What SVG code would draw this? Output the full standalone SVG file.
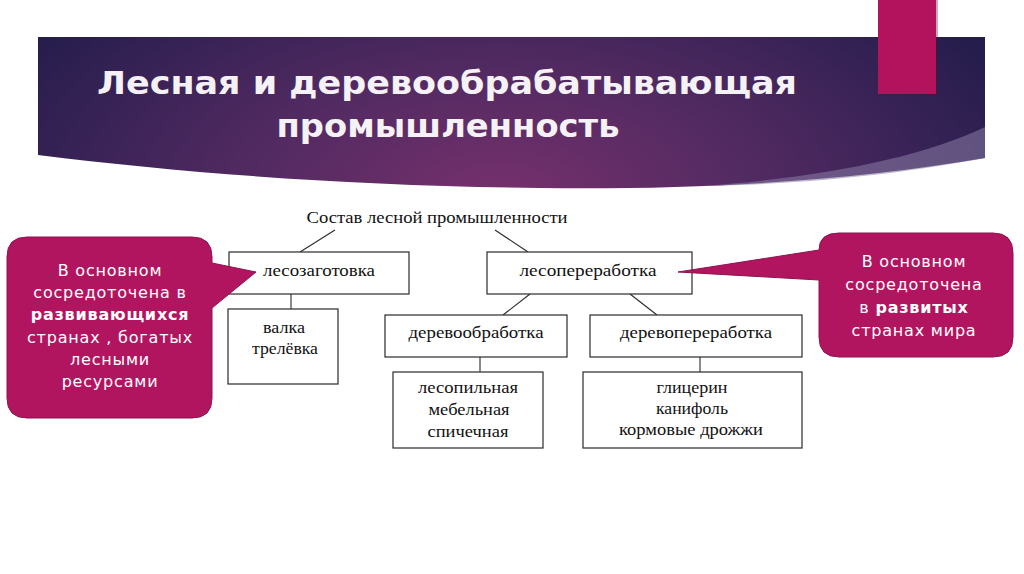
<svg xmlns="http://www.w3.org/2000/svg" width="1024" height="574" viewBox="0 0 1024 574">
<defs>
<radialGradient id="bannerGrad" gradientUnits="userSpaceOnUse" cx="500" cy="195" r="560" gradientTransform="translate(500 195) scale(1 0.5) translate(-500 -195)">
<stop offset="0" stop-color="#76306c"/>
<stop offset="0.45" stop-color="#522a62"/>
<stop offset="1" stop-color="#251d4c"/>
</radialGradient>
<style>
.title{font-family:"DejaVu Sans","Liberation Sans",sans-serif;font-weight:bold;font-size:32px;fill:#f4f2f6;text-anchor:middle}
.box{fill:#ffffff;stroke:#2a2a2a;stroke-width:1.2}
.lbl{font-family:"Liberation Serif","Times New Roman",serif;font-size:17px;fill:#111111;text-anchor:middle}
.con{stroke:#2a2a2a;stroke-width:1.1;fill:none}
.callout{fill:#b2155f;stroke:#8e1350;stroke-width:1}
.ct{font-family:"DejaVu Sans","Liberation Sans",sans-serif;font-size:16px;fill:#ffffff;text-anchor:middle;letter-spacing:0.8px}
.bold{font-weight:bold}
</style>
</defs>
<rect x="0" y="0" width="1024" height="574" fill="#ffffff"/>

<g id="banner">
<path d="M38,37 H985 V158 C850,181 700,190 540,188 C360,186 190,174 38,155 Z" fill="url(#bannerGrad)"/>
<path d="M985,127 C920,158 820,178 700,186 C820,184 910,172 985,158 Z" fill="#8a7ea6" opacity="0.55"/>
<rect x="880" y="0" width="58" height="96" fill="#5a0d36" opacity="0.35"/>
<rect x="878" y="0" width="58" height="94" fill="#b3135d"/>
<text class="title" x="447" y="94" textLength="700" lengthAdjust="spacingAndGlyphs">Лесная и деревообрабатывающая</text>
<text class="title" x="448" y="137" textLength="343" lengthAdjust="spacingAndGlyphs">промышленность</text>
</g>

<g id="connectors">
<line class="con" x1="335" y1="230" x2="300" y2="252"/>
<line class="con" x1="495" y1="230" x2="528" y2="252"/>
<line class="con" x1="291" y1="294" x2="291" y2="309"/>
<line class="con" x1="530" y1="294" x2="503" y2="315"/>
<line class="con" x1="630" y1="294" x2="657" y2="315"/>
<line class="con" x1="480" y1="357" x2="480" y2="372"/>
<line class="con" x1="700" y1="357" x2="700" y2="372"/>
</g>

<g id="root">
<text class="lbl" x="437" y="223" textLength="261" lengthAdjust="spacingAndGlyphs">Состав лесной промышленности</text>
</g>

<g id="lesozagotovka">
<rect class="box" x="229" y="252" width="180" height="42"/>
<text class="lbl" x="319" y="276" textLength="112" lengthAdjust="spacingAndGlyphs">лесозаготовка</text>
</g>

<g id="lesopererabotka">
<rect class="box" x="487" y="252" width="205" height="42"/>
<text class="lbl" x="588" y="276" textLength="137" lengthAdjust="spacingAndGlyphs">лесопереработка</text>
</g>

<g id="valka">
<rect class="box" x="228" y="309" width="110" height="75"/>
<text class="lbl" x="284" y="333" textLength="42" lengthAdjust="spacingAndGlyphs">валка</text>
<text class="lbl" x="285" y="354" textLength="66" lengthAdjust="spacingAndGlyphs">трелёвка</text>
</g>

<g id="derevoobrabotka">
<rect class="box" x="385" y="315" width="182" height="42"/>
<text class="lbl" x="476" y="338" textLength="135" lengthAdjust="spacingAndGlyphs">деревообработка</text>
</g>

<g id="derevopererabotka">
<rect class="box" x="590" y="315" width="212" height="42"/>
<text class="lbl" x="696" y="338" textLength="152" lengthAdjust="spacingAndGlyphs">деревопереработка</text>
</g>

<g id="lesopilnaya">
<rect class="box" x="393" y="372" width="150" height="76"/>
<text class="lbl" x="468" y="393" textLength="100" lengthAdjust="spacingAndGlyphs">лесопильная</text>
<text class="lbl" x="469" y="415" textLength="81" lengthAdjust="spacingAndGlyphs">мебельная</text>
<text class="lbl" x="468" y="437" textLength="81" lengthAdjust="spacingAndGlyphs">спичечная</text>
</g>

<g id="glicerin">
<rect class="box" x="583" y="372" width="219" height="76"/>
<text class="lbl" x="692" y="393" textLength="71" lengthAdjust="spacingAndGlyphs">глицерин</text>
<text class="lbl" x="692" y="414" textLength="72" lengthAdjust="spacingAndGlyphs">канифоль</text>
<text class="lbl" x="691" y="435" textLength="144" lengthAdjust="spacingAndGlyphs">кормовые дрожжи</text>
</g>

<g id="callout-left">
<path class="callout" d="M27,237 H192 Q212,237 212,257 V263 L256,272 L212,308 V398 Q212,418 192,418 H27 Q7,418 7,398 V257 Q7,237 27,237 Z"/>
<text class="ct" x="110" y="276">В основном</text>
<text class="ct" x="110" y="298">сосредоточена в</text>
<text class="ct bold" x="110" y="320">развивающихся</text>
<text class="ct" x="110" y="343">странах , богатых</text>
<text class="ct" x="110" y="365">лесными</text>
<text class="ct" x="110" y="387">ресурсами</text>
</g>

<g id="callout-right">
<path class="callout" d="M839,233 H993 Q1013,233 1013,253 V337 Q1013,357 993,357 H839 Q819,357 819,337 V280 L678,272 L819,250 Q819,233 839,233 Z"/>
<text class="ct" x="914" y="267">В основном</text>
<text class="ct" x="914" y="290">сосредоточена</text>
<text class="ct" x="914" y="313">в <tspan class="bold">развитых</tspan></text>
<text class="ct" x="914" y="336">странах мира</text>
</g>
</svg>
